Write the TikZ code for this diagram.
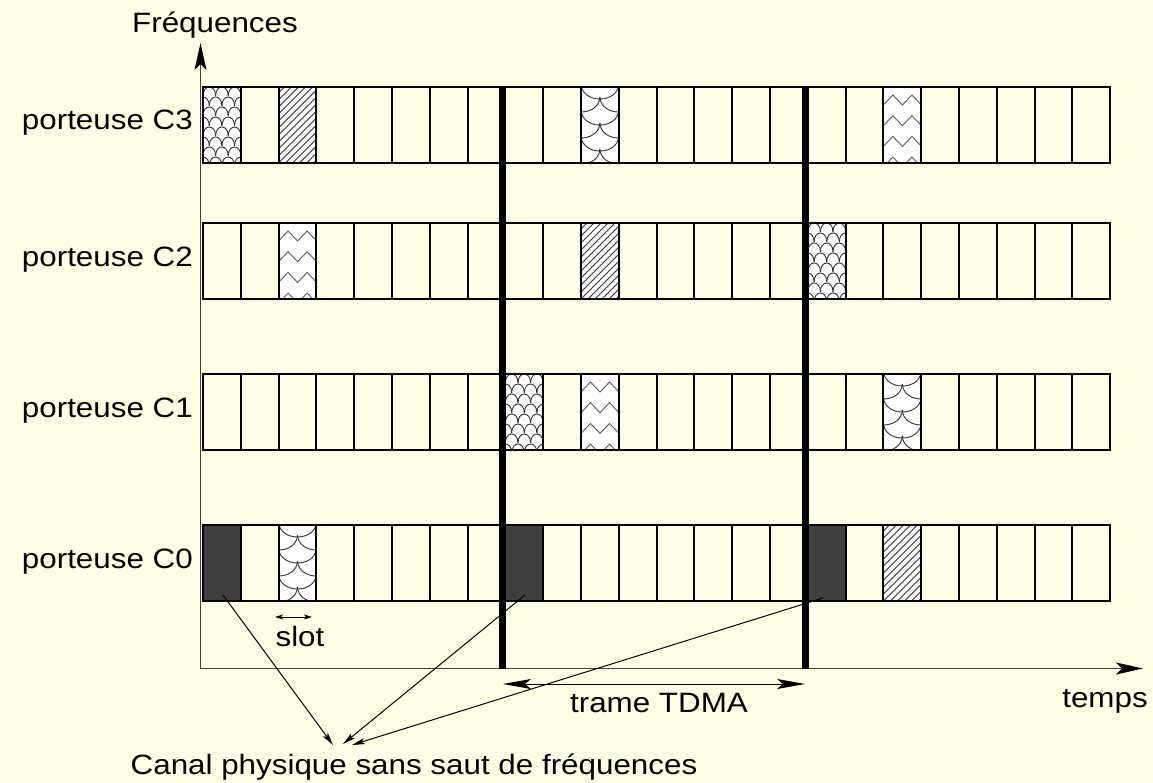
\documentclass[tikz,border=0pt]{standalone}
\usepackage{graphicx}
\usepackage{fontspec}
\setmainfont{Liberation Sans}
\usetikzlibrary{arrows.meta}

\definecolor{paper}{RGB}{255,255,230}
\definecolor{darkslot}{RGB}{64,64,64}
\definecolor{patline}{RGB}{50,50,50}
\definecolor{zigline}{RGB}{90,90,90}

% slightly widened sans text
\newcommand\wide[1]{\scalebox{1.12}[1]{#1}}

% slot geometry (picture units = 1pt, y downwards)
\def\sw{37.8}
\def\sh{76}
\def\sx{203}

% diagonal hatching
\newcommand\hatchslot[2]{%
  \begin{scope}
    \clip (#1,#2) rectangle ++(\sw,\sh);
    \fill[white] (#1,#2) rectangle ++(\sw,\sh);
    \foreach \i in {-12,...,6}{\draw[pat] (#1+\i*7,#2+\sh) -- ++(82,-82);}
  \end{scope}}

% small fish scales
\newcommand\scaleslot[2]{%
  \begin{scope}
    \clip (#1,#2) rectangle ++(\sw,\sh);
    \fill[white] (#1,#2) rectangle ++(\sw,\sh);
    \foreach \r in {0,...,8}{
      \foreach \c in {-1,...,3}{
        \pgfmathsetmacro\X{#1+mod(\r,2)*6.3+\c*12.6}
        \pgfmathsetmacro\Y{#2+\r*10+9}
        \draw[pat] (\X,\Y) .. controls (\X,\Y-12) and (\X+12.6,\Y-12) .. (\X+12.6,\Y);
      }}
  \end{scope}}

% large overlapping scales
\newcommand\bigscaleslot[2]{%
  \begin{scope}
    \clip (#1,#2) rectangle ++(\sw,\sh);
    \fill[white] (#1,#2) rectangle ++(\sw,\sh);
    \foreach \r in {0,...,6}{
      \foreach \c in {-1,...,1}{
        \pgfmathsetmacro\X{#1+mod(\r,2)*18.9+\c*\sw}
        \pgfmathsetmacro\Y{#2+\r*13-3}
        \draw[pat] (\X,\Y) .. controls (\X+1,\Y+20) and (\X+\sw-1,\Y+20) .. (\X+\sw,\Y);
      }}
  \end{scope}}

% zigzag lines
\newcommand\zigslot[2]{%
  \begin{scope}
    \clip (#1,#2) rectangle ++(\sw,\sh);
    \fill[white] (#1,#2) rectangle ++(\sw,\sh);
    \foreach \r in {0,...,3}{
      \pgfmathsetmacro\Y{#2+18+\r*20.7}
      \draw[pat, draw=zigline] (#1-2,\Y+2) -- (#1+9.5,\Y-10) -- (#1+19,\Y) -- (#1+28.5,\Y-10) -- (#1+40,\Y+2);
    }
  \end{scope}}

\newcommand\darkslot[2]{\fill[darkslot] (#1,#2) rectangle ++(\sw,\sh);}

\begin{document}
\begin{tikzpicture}[x=1pt,y=-1pt,
  lbl/.style={font=\fontsize{28}{32}\selectfont, inner sep=0pt},
  pat/.style={line width=0.9pt, draw=patline},
  slotrule/.style={line width=2pt, draw=black},
  axis/.style={line width=1.3pt, draw=black!75, -{Stealth[length=27pt,width=12pt,inset=6pt,color=black]}},
  bar/.style={line width=7pt, draw=black},
  pointer/.style={line width=1pt, draw=black, -{Stealth[length=13pt,width=6pt,inset=3pt]}},
  span/.style={line width=1pt, draw=black, {Stealth[length=28pt,width=10pt,inset=6pt]}-{Stealth[length=28pt,width=10pt,inset=6pt]}},
  smallspan/.style={line width=1pt, draw=black, {Stealth[length=8pt,width=5pt,inset=2pt]}-{Stealth[length=8pt,width=5pt,inset=2pt]}},
]
\fill[paper] (0,0) rectangle (1153,783);
\useasboundingbox (0,0) rectangle (1153,783);

% ---- carrier C3 (top = 87)
\scaleslot{\sx}{87}
\hatchslot{\sx+2*\sw}{87}
\bigscaleslot{\sx+10*\sw}{87}
\zigslot{\sx+18*\sw}{87}
% ---- carrier C2 (top = 223)
\zigslot{\sx+2*\sw}{223}
\hatchslot{\sx+10*\sw}{223}
\scaleslot{\sx+16*\sw}{223}
% ---- carrier C1 (top = 374)
\scaleslot{\sx+8*\sw}{374}
\zigslot{\sx+10*\sw}{374}
\bigscaleslot{\sx+18*\sw}{374}
% ---- carrier C0 (top = 525)
\darkslot{\sx}{525}
\bigscaleslot{\sx+2*\sw}{525}
\darkslot{\sx+8*\sw}{525}
\darkslot{\sx+16*\sw}{525}
\hatchslot{\sx+18*\sw}{525}

% slot grid of each carrier
\foreach \ry in {87,223,374,525}{
  \draw[slotrule] (\sx,\ry) rectangle (\sx+24*\sw,\ry+\sh);
  \foreach \k in {1,...,23}{\draw[slotrule] (\sx+\k*\sw,\ry) -- (\sx+\k*\sw,\ry+\sh);}
}

% carrier labels
\node[lbl, anchor=base east] (c3) at (193,130) {\wide{porteuse C3}};
\node[lbl, anchor=base east] (c2) at (193,266.5) {\wide{porteuse C2}};
\node[lbl, anchor=base east] (c1) at (193,417.5) {\wide{porteuse C1}};
\node[lbl, anchor=base east] (c0) at (193,568.5) {\wide{porteuse C0}};

% axes
\coordinate (origin) at (200.5,668.5);
\coordinate (ftop) at (200.5,43);
\coordinate (tend) at (1143,668.5);
\draw[axis] (origin) -- (ftop);
\draw[axis] (origin) -- (tend);
\node[lbl, anchor=base] (freq) at (215,33) {\wide{Fréquences}};
\node[lbl, anchor=base] (temps) at (1105,707) {\wide{temps}};

% TDMA frame boundaries
\coordinate (b1top) at (502,87);
\coordinate (b1bot) at (502,668.5);
\coordinate (b2top) at (805.5,87);
\coordinate (b2bot) at (805.5,668.5);
\draw[bar] (b1top) -- (b1bot);
\draw[bar] (b2top) -- (b2bot);

% frame span
\coordinate (fa) at (503,684);
\coordinate (fb) at (805,684);
\draw[span] (fa) -- (fb);
\node[lbl, anchor=base] (trame) at (659,712) {\wide{trame TDMA}};

% slot span
\coordinate (sa) at (275,617);
\coordinate (sb) at (312,617);
\draw[smallspan] (sa) -- (sb);
\node[lbl, anchor=base] (slot) at (300,646) {\wide{slot}};

% physical channel without hopping
\node[lbl, anchor=base] (canal) at (414,774) {\wide{Canal physique sans saut de fréquences}};
\coordinate (d0) at (223,595);
\coordinate (d1) at (525,595);
\coordinate (d2) at (823,598);
\coordinate (e0) at (333,745);
\coordinate (e1) at (343,744);
\coordinate (e2) at (352,745);
\draw[pointer] (d0) -- (e0);
\draw[pointer] (d1) -- (e1);
\draw[pointer] (d2) -- (e2);
\end{tikzpicture}
\end{document}
